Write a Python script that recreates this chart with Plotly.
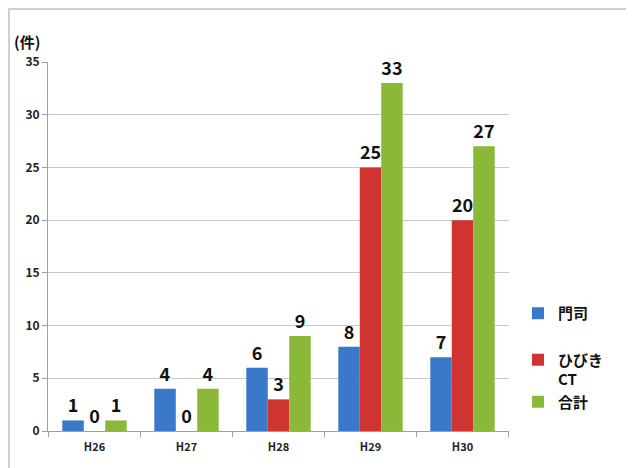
import plotly.graph_objects as go

categories = ["H26", "H27", "H28", "H29", "H30"]
moji = [1, 4, 6, 8, 7]
hibiki = [0, 0, 3, 25, 20]
total = [1, 4, 9, 33, 27]
series_names = ["門司", "ひびき<br>CT", "合計"]
legend_groups = ["g1", "g2", "g2"]
colors = ["#3a78c9", "#cf3430", "#8cb83a"]
y_ticks = [0, 5, 10, 15, 20, 25, 30, 35]

FONT = "Noto Sans CJK JP"
W, H = 626, 460           # page body adds an 8px offset
L, R, T, B = 40, 125, 54, 37
PW, PH = W - L - R, H - T - B

fig = go.Figure()
for name, vals, c, g in zip(series_names, [moji, hibiki, total], colors, legend_groups):
    fig.add_trace(go.Bar(
        x=categories, y=vals, name=name, legendgroup=g,
        marker=dict(color=c, line=dict(width=0)),
        text=vals, texttemplate="%{y}",
        textposition="outside", cliponaxis=False,
        textfont=dict(family=FONT, size=18, color="#111111", weight="bold"),
    ))

fig.update_layout(
    width=W, height=H,
    margin=dict(l=L, r=R, t=T, b=B),
    paper_bgcolor="white", plot_bgcolor="white",
    barmode="group", bargap=0.3, bargroupgap=0,
    font=dict(family=FONT, color="#111111"),
    showlegend=True,
    legend=dict(
        x=(518 - 8 - L - PW) / PW + 1, y=1 - (297 - 8 - T) / PH, xanchor="left", yanchor="top",
        font=dict(family=FONT, size=15, color="#111111", weight="bold"),
        itemwidth=30, tracegroupgap=24, traceorder="grouped", valign="top",
        bgcolor="rgba(0,0,0,0)",
    ),
    xaxis=dict(
        showline=True, linecolor="#a0a0a0", linewidth=1,
        ticks="", ticklabelstandoff=6,
        tickfont=dict(family=FONT, size=11, color="#222222", weight="bold"),
        showgrid=False,
    ),
    yaxis=dict(
        range=[0, 35], tickvals=y_ticks,
        showline=True, linecolor="#a0a0a0", linewidth=1,
        ticks="outside", ticklen=5, tickcolor="#a0a0a0",
        gridcolor="#c8c8c8", gridwidth=1,
        tickfont=dict(family=FONT, size=12, color="#222222", weight="bold"),
        zeroline=False,
    ),
    shapes=[
        dict(type="line", xref="paper", yref="paper", x0=-L / PW, x1=1 + R / PW,
             y0=1 + (T - 1) / PH, y1=1 + (T - 1) / PH,
             line=dict(color="#d0d0d0", width=2)),
        dict(type="line", xref="paper", yref="paper", x0=-(L - 1) / PW, x1=-(L - 1) / PW,
             y0=-B / PH, y1=1 + T / PH,
             line=dict(color="#d0d0d0", width=2)),
    ],
    annotations=[
        dict(text="(件)", xref="paper", yref="paper", x=(12 - 8 - L) / PW, y=1 + (T - 34) / PH,
             xanchor="left", yanchor="middle", showarrow=False,
             font=dict(family=FONT, size=15, color="#111111", weight="bold")),
    ],
)

# category boundary tick marks on x axis
for i in range(len(categories) + 1):
    fig.add_shape(type="line", xref="x", yref="paper", x0=i - 0.5, x1=i - 0.5,
                  y0=0, y1=-6 / PH, line=dict(color="#a0a0a0", width=1))

fig.write_html("out.html")
